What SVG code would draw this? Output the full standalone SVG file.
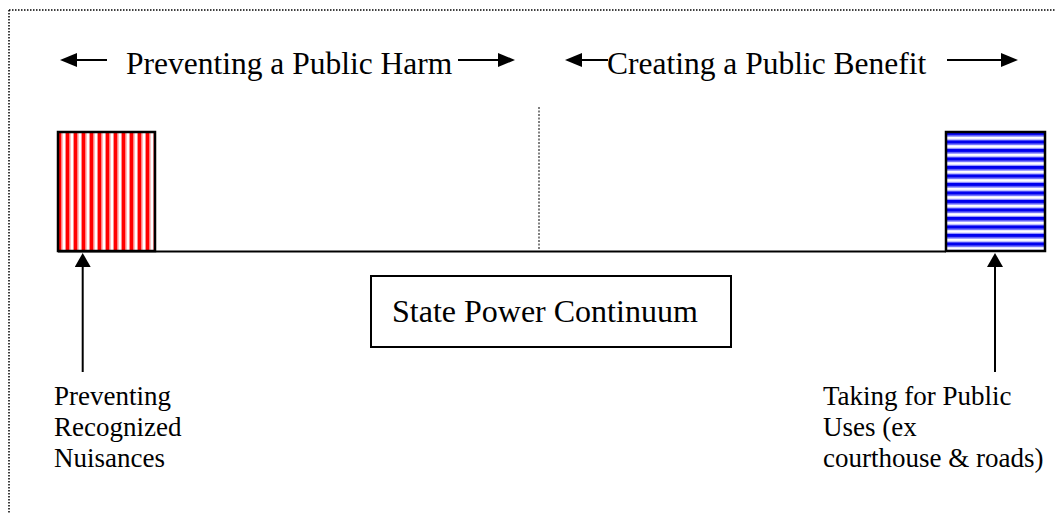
<svg xmlns="http://www.w3.org/2000/svg" width="1055" height="514" viewBox="0 0 1055 514">
<style>
.t{font-family:"Liberation Serif","Times New Roman",serif;fill:#000}
.h{font-size:31.5px}
.l{font-size:27px}
.ln{stroke:#000;stroke-width:2;fill:none}
.box{stroke:#000;stroke-width:2.5}
</style>
<defs>
<marker id="ah" markerUnits="userSpaceOnUse" markerWidth="17" markerHeight="14" refX="0" refY="7" orient="auto" viewBox="0 0 17 14">
<path d="M0,0 L17,7 L0,14 z" fill="#000"/>
</marker>
<marker id="av" markerUnits="userSpaceOnUse" markerWidth="14" markerHeight="16" refX="0" refY="8" orient="auto" viewBox="0 0 14 16">
<path d="M0,0 L14,8 L0,16 z" fill="#000"/>
</marker>
<pattern id="red" patternUnits="userSpaceOnUse" x="58" y="0" width="8" height="10">
<rect width="8" height="10" fill="#fff"/>
<rect x="0" width="3.5" height="10" fill="#ff0000"/>
<rect x="3.5" width="1" height="10" fill="#ff8080"/>
<rect x="7" width="1" height="10" fill="#ff9090"/>
</pattern>
<pattern id="blue" patternUnits="userSpaceOnUse" x="0" y="132" width="10" height="8.5">
<rect width="10" height="8.5" fill="#fff"/>
<rect y="0" width="10" height="3.5" fill="#0000ee"/>
<rect y="3.5" width="10" height="1.2" fill="#8080ff"/>
<rect y="7.3" width="10" height="1.2" fill="#9090ff"/>
</pattern>
</defs>
<rect width="1055" height="514" fill="#fff"/>
<g id="frame" stroke="#000" stroke-width="1.5" stroke-dasharray="1.5 1.5" fill="none">
<line x1="9" y1="10" x2="1055" y2="10"/>
<line x1="9" y1="10" x2="9" y2="514"/>
</g>
<g id="divider">
<line x1="539" y1="107" x2="539" y2="249" stroke="#555" stroke-width="1.5" stroke-dasharray="2 1.5"/>
</g>
<g id="header-harm">
<text class="t h" x="126" y="74">Preventing a Public Harm</text>
</g>
<g id="header-benefit">
<text class="t h" x="607" y="74">Creating a Public Benefit</text>
</g>
<g id="nuisance-block">
<rect x="58" y="132" width="97" height="119" fill="url(#red)" class="box"/>
</g>
<g id="public-use-block">
<rect x="946" y="132" width="99" height="119" fill="url(#blue)" class="box"/>
</g>
<g id="continuum-label">
<rect x="371" y="276" width="360" height="71" fill="#fff" stroke="#000" stroke-width="2"/>
<text class="t h" x="392" y="322" style="font-size:32px">State Power Continuum</text>
</g>
<g id="label-nuisances">
<text class="t l" x="54" y="405">Preventing</text>
<text class="t l" x="54" y="436">Recognized</text>
<text class="t l" x="54" y="467">Nuisances</text>
</g>
<g id="label-public-uses">
<text class="t l" x="823" y="405">Taking for Public</text>
<text class="t l" x="823" y="436">Uses (ex</text>
<text class="t l" x="823" y="467">courthouse &amp; roads)</text>
</g>
<g id="connectors">
<line class="ln" x1="58" y1="251.5" x2="946" y2="251.5"/>
<line class="ln" x1="107" y1="60" x2="77" y2="60" marker-end="url(#ah)"/>
<line class="ln" x1="458" y1="60" x2="498" y2="60" marker-end="url(#ah)"/>
<line class="ln" x1="608" y1="60" x2="582" y2="60" marker-end="url(#ah)"/>
<line class="ln" x1="947" y1="60" x2="1001" y2="60" marker-end="url(#ah)"/>
<line class="ln" x1="82.7" y1="372" x2="82.7" y2="267" marker-end="url(#av)"/>
<line class="ln" x1="995" y1="372" x2="995" y2="267" marker-end="url(#av)"/>
</g>
</svg>
